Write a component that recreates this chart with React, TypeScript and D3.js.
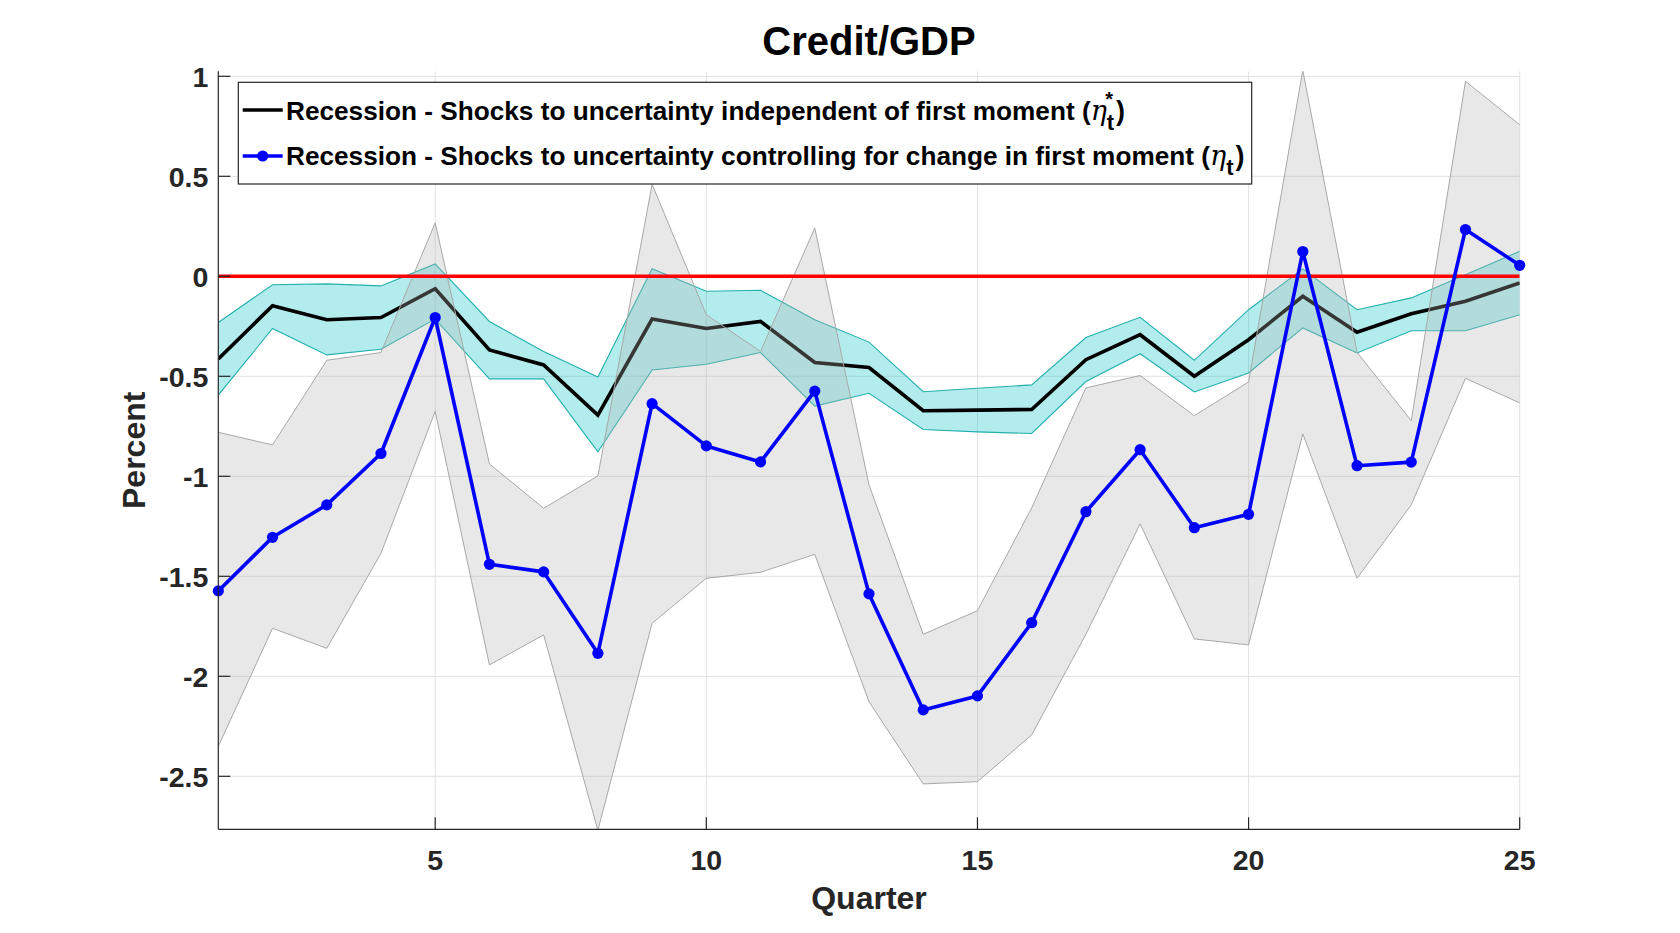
import React from "react";
import * as d3 from "d3";

const quarters = d3.range(1, 26);

const blackLine = [-0.413, -0.147, -0.217, -0.206, -0.062, -0.368, -0.443, -0.694, -0.214, -0.261, -0.226, -0.431, -0.456, -0.672, -0.669, -0.666, -0.417, -0.292, -0.5, -0.317, -0.1, -0.28, -0.187, -0.125, -0.033];
const cyanUpper = [-0.231, -0.042, -0.038, -0.048, 0.062, -0.226, -0.376, -0.503, 0.038, -0.075, -0.07, -0.217, -0.329, -0.577, -0.56, -0.543, -0.306, -0.205, -0.42, -0.167, 0.037, -0.167, -0.108, 0.008, 0.125];
const cyanLower = [-0.594, -0.261, -0.393, -0.365, -0.214, -0.513, -0.513, -0.878, -0.468, -0.44, -0.381, -0.649, -0.585, -0.766, -0.778, -0.786, -0.526, -0.387, -0.578, -0.483, -0.258, -0.383, -0.272, -0.272, -0.192];

const blueLine = [-1.573, -1.305, -1.143, -0.886, -0.206, -1.44, -1.478, -1.885, -0.637, -0.848, -0.928, -0.574, -1.588, -2.168, -2.098, -1.732, -1.177, -0.867, -1.257, -1.19, 0.124, -0.947, -0.929, 0.234, 0.055];
const grayUpper = [-0.78, -0.843, -0.42, -0.381, 0.267, -0.938, -1.16, -0.998, 0.46, -0.192, -0.376, 0.242, -1.043, -1.79, -1.672, -1.158, -0.558, -0.496, -0.697, -0.528, 1.03, -0.38, -0.722, 0.975, 0.758];
const grayLower = [-2.35, -1.76, -1.86, -1.385, -0.675, -1.943, -1.793, -2.77, -1.735, -1.51, -1.48, -1.39, -2.127, -2.538, -2.527, -2.293, -1.79, -1.238, -1.813, -1.843, -0.788, -1.51, -1.143, -0.51, -0.633];

const xTicks = [5, 10, 15, 20, 25];
const yTicks = [-2.5, -2, -1.5, -1, -0.5, 0, 0.5, 1];

const titleText = "Credit/GDP";
const xLabel = "Quarter";
const yLabel = "Percent";
const legend1 = "Recession - Shocks to uncertainty independent of first moment (";
const legend2 = "Recession - Shocks to uncertainty controlling for change in first moment (";

const W = 1680;
const H = 933;
const L = 218.3, R = 1519.7, T = 71.3, B = 829.3;
const FONT = "'Liberation Sans', Arial, Helvetica, sans-serif";
const AX = "#262626";

export default function App() {
  const x = d3.scaleLinear().domain([1, 25]).range([L, R]);
  const y = d3.scaleLinear().domain([-2.765, 1.025]).range([B, T]);

  const band = (up: number[], lo: number[]) =>
    d3.area<number>()
      .x((q) => x(q))
      .y0((q, i) => y(lo[i]))
      .y1((q, i) => y(up[i]))(quarters) as string;
  const line = (vals: number[]) =>
    d3.line<number>().x((q) => x(q)).y((q, i) => y(vals[i]))(quarters) as string;

  const tickLabel = (v: number) => (v === 0 ? "0" : String(v));

  return (
    <svg width={W} height={H} style={{ position: "absolute", left: 0, top: 0, background: "#fff" }} fontFamily={FONT}>
      <defs>
        <clipPath id="plotClip">
          <rect x={L} y={T} width={R - L} height={B - T} />
        </clipPath>
      </defs>
      <rect x={0} y={0} width={W} height={H} fill="#fff" />
      {/* grid */}
      <g stroke="#e2e2e2" strokeWidth={1}>
        {yTicks.map((v) => (
          <line key={"gy" + v} x1={L} x2={R} y1={y(v)} y2={y(v)} />
        ))}
        {xTicks.map((v) => (
          <line key={"gx" + v} x1={x(v)} x2={x(v)} y1={T} y2={B} />
        ))}
      </g>
      <g clipPath="url(#plotClip)">
        {/* cyan band */}
        <path d={band(cyanUpper, cyanLower)} fill="rgb(0,191,191)" fillOpacity={0.3} stroke="none" />
        <path d={line(cyanUpper)} fill="none" stroke="#22b0ac" strokeWidth={1.1} />
        <path d={line(cyanLower)} fill="none" stroke="#22b0ac" strokeWidth={1.1} />
        {/* black line */}
        <path d={line(blackLine)} fill="none" stroke="#000" strokeWidth={3.6} strokeLinejoin="miter" />
        {/* gray band */}
        <path d={band(grayUpper, grayLower)} fill="rgb(178,178,178)" fillOpacity={0.3} stroke="none" />
        <path d={line(grayUpper)} fill="none" stroke="#a8a8a8" strokeWidth={1} />
        <path d={line(grayLower)} fill="none" stroke="#a8a8a8" strokeWidth={1} />
        {/* zero line */}
        <line x1={x(1)} x2={x(25)} y1={y(0)} y2={y(0)} stroke="#ff0000" strokeWidth={3.4} />
        {/* blue line */}
        <path d={line(blueLine)} fill="none" stroke="#0000ff" strokeWidth={3.6} strokeLinejoin="round" />
      </g>
      {quarters.map((q, i) => (
        <circle key={"m" + q} cx={x(q)} cy={y(blueLine[i])} r={5.6} fill="#0000ff" />
      ))}
      {/* axes */}
      <g stroke={AX} strokeWidth={1.2}>
        <line x1={L} x2={L} y1={T} y2={B} />
        <line x1={L} x2={R} y1={B} y2={B} />
        {yTicks.map((v) => (
          <line key={"ty" + v} x1={L} x2={L + 12} y1={y(v)} y2={y(v)} />
        ))}
        {xTicks.map((v) => (
          <line key={"tx" + v} x1={x(v)} x2={x(v)} y1={B} y2={B - 12} />
        ))}
      </g>
      <g fill={AX} fontWeight="bold" fontSize={28.5}>
        {yTicks.map((v) => (
          <text key={"ly" + v} x={L - 10} y={y(v)} dy="0.36em" textAnchor="end">
            {tickLabel(v)}
          </text>
        ))}
        {xTicks.map((v) => (
          <text key={"lx" + v} x={x(v)} y={870} textAnchor="middle">
            {v}
          </text>
        ))}
      </g>
      <text x={(L + R) / 2} y={909} textAnchor="middle" fontWeight="bold" fontSize={32} fill={AX}>
        {xLabel}
      </text>
      <text transform={`translate(145,${(T + B) / 2}) rotate(-90)`} textAnchor="middle" fontWeight="bold" fontSize={32} fill={AX}>
        {yLabel}
      </text>
      <text x={(L + R) / 2} y={55} textAnchor="middle" fontWeight="bold" fontSize={40} fill="#000">
        {titleText}
      </text>
      {/* legend */}
      <g>
        <rect x={238.3} y={82.3} width={1013.4} height={101.7} fill="#fff" stroke={AX} strokeWidth={1.2} />
        <line x1={242.7} x2={282.7} y1={110} y2={110} stroke="#000" strokeWidth={3.6} />
        <line x1={242.7} x2={282.7} y1={156} y2={156} stroke="#0000ff" strokeWidth={3.6} />
        <circle cx={262.7} cy={156} r={5.6} fill="#0000ff" />
        <text x={286} y={120} fontWeight="bold" fontSize={26.2} fill="#000">
          {legend1}
          <tspan fontStyle="italic" fontWeight="normal" fontFamily="'DejaVu Serif', serif" fontSize={27}>η</tspan>
          <tspan dy={10} fontSize={22}>t</tspan>
          <tspan dx={-9} dy={-24} fontSize={20}>*</tspan>
          <tspan dy={14} dx={3} fontSize={27}>)</tspan>
        </text>
        <text x={286} y={165} fontWeight="bold" fontSize={26.2} fill="#000">
          {legend2}
          <tspan fontStyle="italic" fontWeight="normal" fontFamily="'DejaVu Serif', serif" fontSize={27}>η</tspan>
          <tspan dy={10} fontSize={22}>t</tspan>
          <tspan dy={-10} dx={2} fontSize={27}>)</tspan>
        </text>
      </g>
    </svg>
  );
}
